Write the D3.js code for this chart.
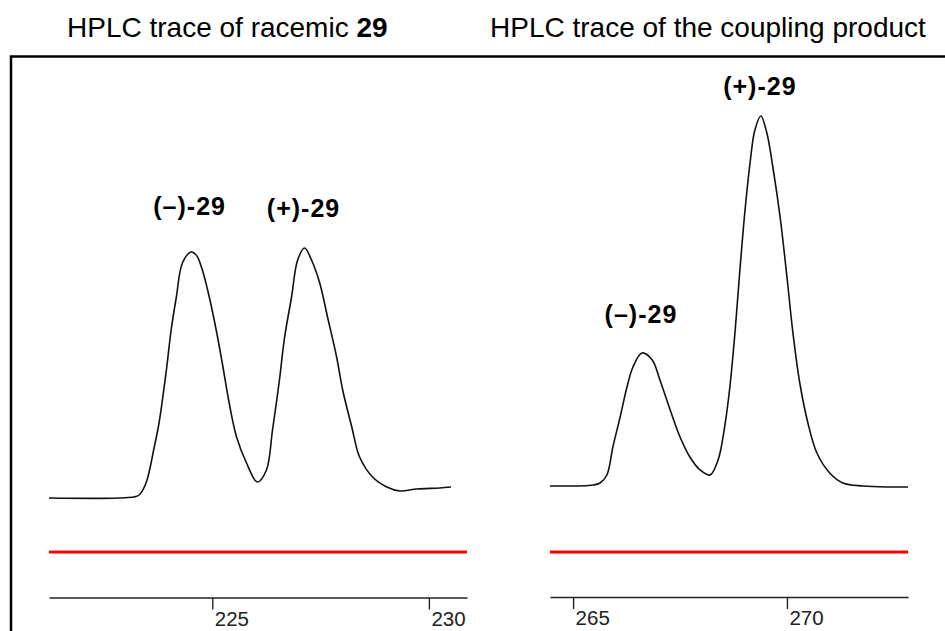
<!DOCTYPE html>
<html>
<head>
<meta charset="utf-8">
<title>HPLC traces</title>
<style>
    body { margin: 0; background: #fff; }
    text { font-family: "Liberation Sans", Arial, sans-serif; }
</style>
</head>
<body>
<svg width="945" height="631"></svg>
<script src="https://cdn.jsdelivr.net/npm/d3@7"></script>
<script>
    // racemic 29 trace: retention time (min) and detector signal
    var racemicTime = [221.23, 223.19, 223.31, 223.47, 223.66, 223.77, 223.94, 224.05, 224.17, 224.31,
        224.51, 224.63, 224.77, 224.93, 225.09, 225.23, 225.39, 225.56, 225.79, 226.04,
        226.25, 226.39, 226.55, 226.67, 226.83, 226.97, 227.13, 227.29, 227.48, 227.66,
        227.87, 228.01, 228.22, 228.40, 228.70, 229.03, 229.33, 229.72, 230.25, 230.51];
    var racemicSignal = [0.5, 0.75, 1.25, 4.25, 13.25, 19.25, 32.5, 42.5, 50.75, 59.25,
        62, 61.25, 57.5, 50.75, 42.5, 34.25, 24.25, 15.75, 9.25, 4.5,
        7.5, 17.5, 30, 40.75, 50.75, 60, 63, 60, 54.25, 45.75,
        35.75, 27.5, 18.25, 10.75, 5.75, 3.25, 2.25, 2.75, 3, 3.25];

    // coupling product trace
    var productTime = [264.46, 265.47, 265.63, 265.79, 265.93, 266.10, 266.26, 266.40, 266.61, 266.85,
        267.03, 267.27, 267.50, 267.73, 267.97, 268.20, 268.39, 268.55, 268.67, 268.79,
        268.90, 269.02, 269.14, 269.25, 269.39, 269.53, 269.67, 269.84, 270.00, 270.14,
        270.30, 270.49, 270.70, 271.00, 271.31, 271.78, 272.41, 272.83];
    var productSignal = [3.5, 3.75, 4.25, 6.25, 13.25, 20.75, 28.25, 33.25, 36.75, 35,
        30, 22.5, 15.75, 10.75, 7.5, 6.25, 10, 18.75, 28.75, 42.5,
        57.5, 72.5, 84.5, 92.5, 96, 91.75, 83.25, 70.75, 55.75, 41.75,
        29.25, 19.25, 11.75, 6.75, 4.25, 3.5, 3.25, 3.25];

    var refLevel = -13;   // red reference channel

    var panels = [
        { title: "HPLC trace of racemic ", bold: "29", time: racemicTime, signal: racemicSignal,
          domain: [221.23, 230.88], ticks: [225, 230],
          labels: [{ text: "(\u2013)-29", t: 224.5, s: 62 }, { text: "(+)-29", t: 227.13, s: 63 }] },
        { title: "HPLC trace of the coupling product", bold: "", time: productTime, signal: productSignal,
          domain: [264.46, 272.83], ticks: [265, 270],
          labels: [{ text: "(\u2013)-29", t: 266.61, s: 36.75 }, { text: "(+)-29", t: 269.39, s: 96 }] }
    ];

    var svg = d3.select("svg");

    var y = d3.scaleLinear().domain([0, 100]).range([500, 100]);

    var ranges = [[49, 467], [550, 908]];
    var titleX = [67, 490];
    var labelOffset = [[[-1, 37], [-1, 31]], [[-1, 30], [-1, 21]]];

    // frame
    svg.append("path")
        .attr("d", "M11,631 L11,56.5 L945,56.5")
        .attr("fill", "none")
        .attr("stroke", "#000")
        .attr("stroke-width", 2.5);

    panels.forEach(function(p, k) {
        var x = d3.scaleLinear().domain(p.domain).range(ranges[k]);

        var t = svg.append("text")
            .attr("x", titleX[k])
            .attr("y", 37)
            .attr("font-size", 28)
            .attr("fill", "#000")
            .text(p.title);
        if (p.bold) t.append("tspan").attr("font-weight", "bold").text(p.bold);

        var pts = p.time.map(function(d, i) { return [d, p.signal[i]]; });

        var line = d3.line()
            .x(function(d) { return x(d[0]); })
            .y(function(d) { return y(d[1]); })
            .curve(d3.curveCatmullRom);

        svg.append("path")
            .datum(pts)
            .attr("d", line)
            .attr("fill", "none")
            .attr("stroke", "#111")
            .attr("stroke-width", 1.6);

        // reference channel
        svg.append("path")
            .datum(p.domain.map(function(d) { return [d, refLevel]; }))
            .attr("d", d3.line().x(function(d) { return x(d[0]); }).y(function(d) { return y(d[1]); }))
            .attr("stroke", "#ff0000")
            .attr("stroke-width", 3);

        var axis = d3.axisBottom(x)
            .tickValues(p.ticks)
            .tickSize(12)
            .tickSizeOuter(0)
            .tickFormat(d3.format("d"));

        var g = svg.append("g")
            .attr("transform", "translate(0," + (597.5 - k * 0.5) + ")")
            .call(axis);
        g.select(".domain").attr("stroke", "#222").attr("stroke-width", 1.6);
        g.selectAll(".tick line").attr("stroke", "#222").attr("stroke-width", 1.4);
        g.selectAll(".tick text")
            .attr("text-anchor", "start")
            .attr("x", 2)
            .attr("y", 12)
            .attr("dy", "16px")
            .attr("fill", "#222")
            .attr("font-size", 20.5)
            .attr("font-family", "'Liberation Sans', Arial, sans-serif");

        p.labels.forEach(function(l, j) {
            svg.append("text")
                .attr("x", x(l.t) + labelOffset[k][j][0])
                .attr("y", y(l.s) - labelOffset[k][j][1])
                .attr("text-anchor", "middle")
                .attr("font-size", 25)
                .attr("font-weight", "bold")
                .attr("letter-spacing", 1)
                .attr("fill", "#000")
                .text(l.text);
        });
    });
</script>
</body>
</html>
